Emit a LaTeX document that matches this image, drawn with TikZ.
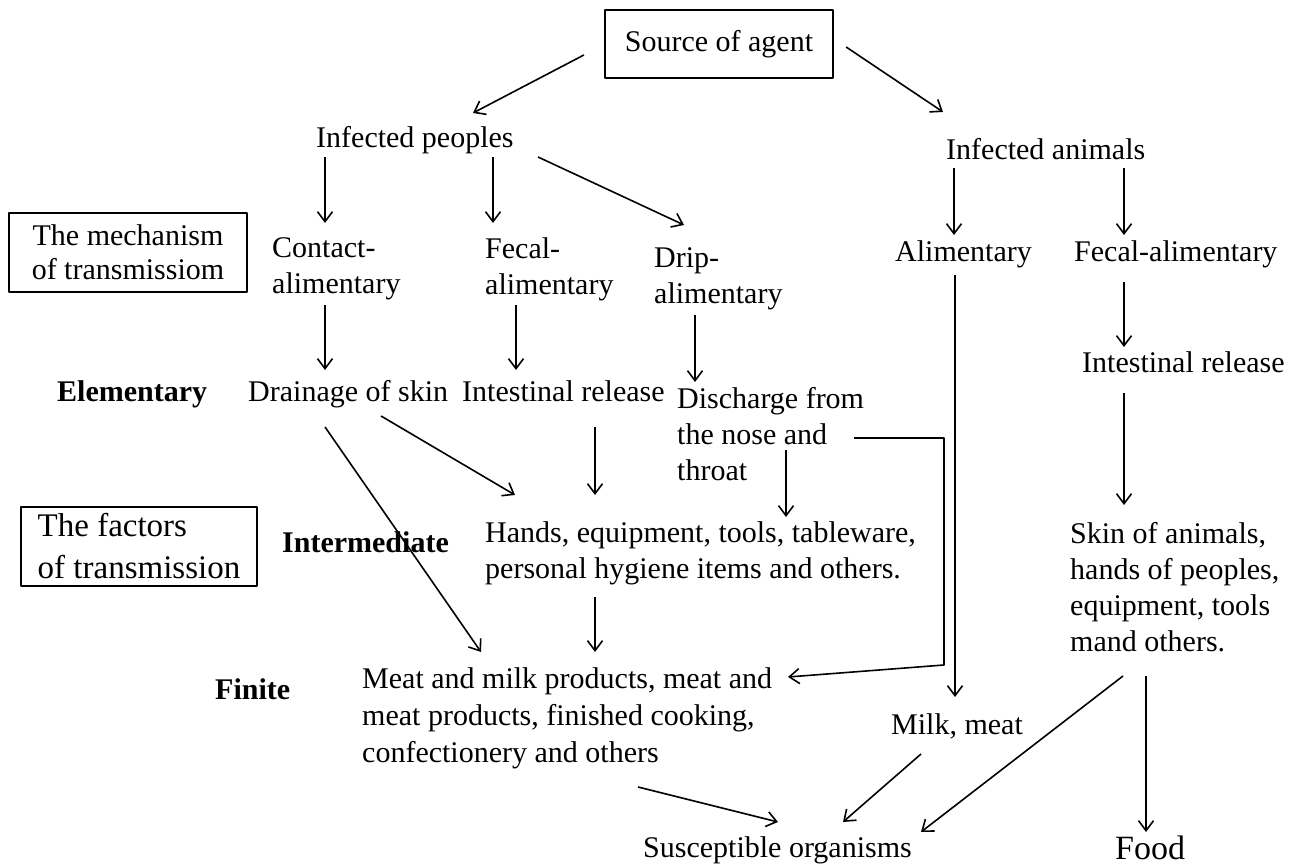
\documentclass[tikz,border=0pt]{standalone}
\usepackage{fontspec}
\setmainfont{Liberation Serif}
\usetikzlibrary{arrows.meta, calc}

\begin{document}
\begin{tikzpicture}[
        x=1pt, y=1pt,
        line join=bevel,
        font=\fontsize{30}{36}\selectfont,
        plainnode/.style={inner sep=0pt, anchor=base west},
        blocknode/.style={inner sep=0pt, anchor=north west, align=left},
        levelnode/.style={inner sep=0pt, anchor=base west, font=\fontsize{30}{36}\selectfont\bfseries},
        framednode/.style={draw=black, line width=2.2pt, inner sep=0pt},
        arrowline/.style={-{Straight Barb[length=10pt, width=15pt]}, line width=1.6pt}
        ]
        \useasboundingbox (0,0) rectangle (1295,866);

        %% Boxes
        \node[framednode, minimum width=228pt, minimum height=68pt] (src) at (719,822) {Source of agent};
        \node[framednode, minimum width=238pt, minimum height=79pt, align=center, font=\fontsize{30}{34}\selectfont] (mech) at (128,613.5) {The mechanism\\of transmissiom};
        \node[framednode, minimum width=236pt, minimum height=79pt, align=left, font=\fontsize{33}{42}\selectfont] (fact) at (139,319.5) {The factors\\of transmission};

        %% Levels
        \node[levelnode] (elem) at (57,464) {Elementary};
        \node[levelnode] (inter) at (282,313) {Intermediate};
        \node[levelnode] (fin) at (215,166) {Finite};

        %% Texts
        \node[plainnode] (peop) at (316,718) {Infected peoples};
        \node[plainnode] (anim) at (946,706) {Infected animals};
        \node[blocknode] (ctc) at (272,629) {Contact-\\alimentary};
        \node[blocknode] (fec) at (485,629) {Fecal-\\alimentary};
        \node[blocknode] (drip) at (654,619) {Drip-\\alimentary};
        \node[plainnode] (alim) at (895,604) {Alimentary};
        \node[plainnode] (fecal2) at (1074,604) {Fecal-alimentary};
        \node[plainnode] (drain) at (248,464) {Drainage of skin};
        \node[plainnode] (intest) at (462,464) {Intestinal release};
        \node[blocknode] (disch) at (677,479) {Discharge from\\the nose and\\throat};
        \node[plainnode] (intest2) at (1082,493) {Intestinal release};
        \node[blocknode] (hands) at (485,345) {Hands, equipment, tools, tableware,\\personal hygiene items and others.};
        \node[blocknode] (skin) at (1070,344) {Skin of animals,\\hands of peoples,\\equipment, tools\\mand others.};
        \node[blocknode, font=\fontsize{30}{37}\selectfont] (meat) at (362,199) {Meat and milk products, meat and\\meat products, finished cooking,\\confectionery and others};
        \node[plainnode] (milk) at (891,131) {Milk, meat};
        \node[plainnode] (susc) at (643,8) {Susceptible organisms};
        \node[plainnode, font=\fontsize{34}{40}\selectfont] (food) at (1115,6) {Food};

        %% Arrows
        \draw[arrowline] ($(src.west)+(-20,-11)$) -- ($(peop.base west)+(157,35)$);
        \draw[arrowline] ($(src.east)+(12,-3)$) -- ($(anim.base west)+(-3,48)$);
        \draw[arrowline] ($(peop.base west)+(9,-9)$) -- ($(ctc.north west)+(53,14)$);
        \draw[arrowline] ($(peop.base west)+(177,-9)$) -- ($(fec.north west)+(8,14)$);
        \draw[arrowline] ($(peop.base west)+(222,-9)$) -- ($(drip.north west)+(30,22)$);
        \draw[arrowline] ($(anim.base west)+(8,-8)$) -- ($(alim.base west)+(59,27)$);
        \draw[arrowline] ($(anim.base west)+(178,-8)$) -- ($(fecal2.base west)+(50,27)$);
        \draw[arrowline] ($(ctc.north west)+(53,-68)$) -- ($(drain.base west)+(77,32)$);
        \draw[arrowline] ($(fec.north west)+(31,-68)$) -- ($(intest.base west)+(54,32)$);
        \draw[arrowline] ($(drip.north west)+(41,-68)$) -- ($(disch.north west)+(18,5)$);
        \draw[arrowline] ($(fecal2.base west)+(50,-20)$) -- ($(intest2.base west)+(42,26)$);
        \draw[arrowline] ($(drain.base west)+(133,-14)$) -- ($(hands.north west)+(30,26)$);
        \draw[arrowline] ($(intest.base west)+(133,-25)$) -- ($(hands.north west)+(110,26)$);
        \draw[arrowline] ($(disch.north west)+(109,-63)$) -- ($(hands.north west)+(301,4)$);
        \draw[arrowline] ($(drain.base west)+(77,-25)$) -- ($(meat.north west)+(119,15)$);
        \draw[arrowline] ($(hands.north west)+(110,-76)$) -- ($(meat.north west)+(233,15)$);
        \draw[arrowline] ($(disch.north west)+(177,-51)$) -- ++(90,0) -- ++(0,-227) -- ($(meat.north west)+(426,-10)$);
        \draw[arrowline] ($(alim.base west)+(60,-13)$) -- ($(milk.base west)+(64,38)$);
        \draw[arrowline] ($(intest2.base west)+(42,-20)$) -- ($(skin.north west)+(54,17)$);
        \draw[arrowline] ($(meat.north west)+(276,-120)$) -- ($(susc.base west)+(135,36)$);
        \draw[arrowline] ($(milk.base west)+(30,-19)$) -- ($(susc.base west)+(200,36)$);
        \draw[arrowline] ($(skin.north west)+(53,-154)$) -- ($(susc.base west)+(278,26)$);
        \draw[arrowline] ($(skin.north west)+(76,-154)$) -- ($(food.base west)+(31,28)$);
\end{tikzpicture}
\end{document}
